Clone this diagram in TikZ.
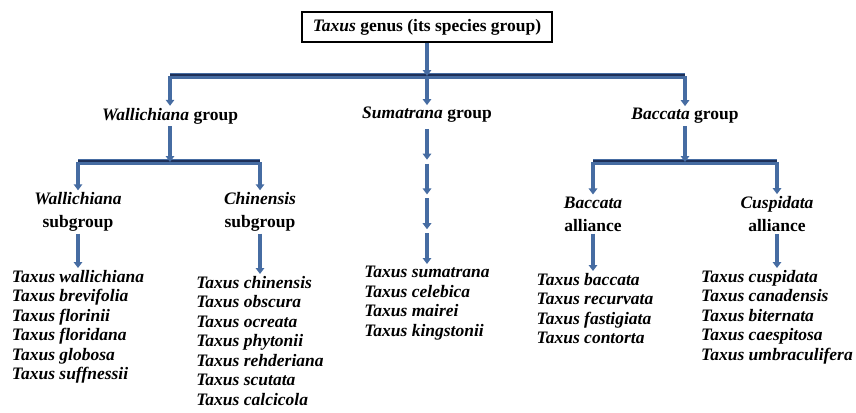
\documentclass[tikz,border=0pt]{standalone}
\usepackage{fontspec}
\setmainfont{Liberation Serif}
\usetikzlibrary{positioning, arrows.meta, calc}
\definecolor{arrowblue}{RGB}{70,108,162}
\definecolor{bardark}{RGB}{30,48,88}

\begin{document}
\begin{tikzpicture}[x=1pt, y=-1pt, font=\fontsize{17.5}{19.5}\selectfont\bfseries]
    \tikzset{
        arr/.style={arrowblue, line width=3.2pt, -{Triangle[width=8.5pt,length=6pt]}},
        bar/.style={arrowblue, line width=5.5pt},
        bartop/.style={bardark, line width=2pt},
        grp/.style={inner sep=2pt, align=center},
        subgrp/.style={inner sep=2pt, align=center, font=\fontsize{17.5}{23}\selectfont\bfseries},
        species/.style={inner sep=2pt, align=left, anchor=north, font=\fontsize{17.5}{19.5}\selectfont\bfseries\itshape}
    }
    \useasboundingbox (0,0) rectangle (856,412);

    % GENUS
    \node[draw, line width=2.2pt, minimum width=250pt, minimum height=30pt, inner sep=0pt] (genus) at (427,27) {\textit{Taxus} genus (its species group)};

    % BARS
    \coordinate (mainL) at (170,76);
    \coordinate (mainC) at (427,76);
    \coordinate (mainR) at (685,76);
    \coordinate (walL) at (78,162);
    \coordinate (walC) at (170,162);
    \coordinate (walR) at (260,162);
    \coordinate (bacL) at (593,162);
    \coordinate (bacC) at (685,162);
    \coordinate (bacR) at (777,162);

    % GROUPS
    \node[grp] (wal) at (170,116) {\textit{Wallichiana} group};
    \node[grp] (sum) at (427,115) {\textit{Sumatrana} group};
    \node[grp] (bac) at (685,116) {\textit{Baccata} group};

    % SUBGROUPS AND ALLIANCES
    \node[subgrp] (walsub) at (78,212) {\textit{Wallichiana}\\subgroup};
    \node[subgrp] (chisub) at (260,212) {\textit{Chinensis}\\subgroup};
    \node[subgrp] (bacall) at (593,214) {\textit{Baccata}\\alliance};
    \node[subgrp] (cusall) at (777,214) {\textit{Cuspidata}\\alliance};

    % SPECIES
    \node[species] (wallist) at (78,268) {Taxus wallichiana\\Taxus brevifolia\\Taxus florinii\\Taxus floridana\\Taxus globosa\\Taxus suffnessii};
    \node[species] (chilist) at (260,274) {Taxus chinensis\\Taxus obscura\\Taxus ocreata\\Taxus phytonii\\Taxus rehderiana\\Taxus scutata\\Taxus calcicola};
    \node[species] (sumlist) at (427,264) {Taxus sumatrana\\Taxus celebica\\Taxus mairei\\Taxus kingstonii};
    \node[species] (baclist) at (595,271) {Taxus baccata\\Taxus recurvata\\Taxus fastigiata\\Taxus contorta};
    \node[species] (cuslist) at (777,268) {Taxus cuspidata\\Taxus canadensis\\Taxus biternata\\Taxus caespitosa\\Taxus umbraculifera};

    % HORIZONTAL BARS
    \foreach \l/\r in {mainL/mainR, walL/walR, bacL/bacR} {
        \draw[bar] (\l) -- (\r);
        \draw[bartop] ([yshift=1.4pt]\l) -- ([yshift=1.4pt]\r);
    }

    % CONNECTORS
    \draw[arr] (genus.south) -- (mainC);
    \draw[arr] (mainL) -- (wal.north);
    \draw[arr] (mainC) -- (sum.north);
    \draw[arr] (mainR) -- (bac.north);
    \draw[arr] (wal.south) -- (walC);
    \draw[arr] (bac.south) -- (bacC);
    \draw[arr] (walL) -- (walsub.north);
    \draw[arr] (walR) -- (chisub.north);
    \draw[arr] (bacL) -- (bacall.north);
    \draw[arr] (bacR) -- (cusall.north);
    \draw[arr] (walsub.south) -- (wallist.north);
    \draw[arr] (chisub.south) -- (chilist.north);
    \draw[arr] (bacall.south) -- (baclist.north -| bacall.south);
    \draw[arr] (cusall.south) -- (cuslist.north);
    \foreach \i in {0,1,2,3}
        \draw[arr, shorten <=4pt] ($(sum.south)!{\i/4}!(sumlist.north)$) -- ($(sum.south)!{(\i+1)/4}!(sumlist.north)$);

\end{tikzpicture}
\end{document}
